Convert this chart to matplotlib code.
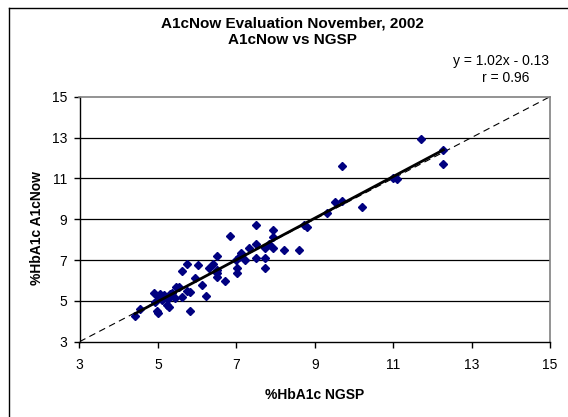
import matplotlib
matplotlib.use("Agg")
import matplotlib.pyplot as plt
from matplotlib.lines import Line2D
import numpy as np

plt.rcParams['font.family'] = ['Liberation Sans', 'DejaVu Sans']

# Data
ngsp = [4.42, 4.54, 4.90, 4.93, 5.00, 4.98, 5.00, 5.10, 5.16, 5.22,
        5.28, 5.30, 5.25, 5.05, 5.35, 5.44, 5.45, 5.55, 5.62, 5.62,
        5.73, 5.75, 5.83, 5.82, 5.94, 6.02, 6.13, 6.22, 6.30, 6.41,
        6.50, 6.50, 6.51, 6.51, 6.72, 6.83, 7.00, 7.02, 7.02, 7.06,
        7.12, 7.21, 7.32, 7.51, 7.51, 7.51, 7.72, 7.72, 7.72, 7.83,
        7.93, 7.93, 7.93, 8.21, 8.61, 8.72, 8.80, 9.31, 9.52, 9.69,
        9.69, 10.20, 11.00, 11.11, 11.71, 12.28, 12.28]
a1cnow = [4.28, 4.59, 5.37, 4.96, 5.24, 4.50, 4.40, 5.05, 5.29, 4.80,
          4.70, 5.33, 5.10, 5.35, 5.40, 5.13, 5.70, 5.70, 5.21, 6.48,
          6.81, 5.50, 4.52, 5.45, 6.11, 6.76, 5.78, 5.26, 6.62, 6.81,
          7.20, 6.51, 6.19, 6.35, 5.99, 8.20, 7.00, 6.60, 6.35, 7.17,
          7.33, 7.00, 7.61, 8.72, 7.79, 7.09, 7.61, 6.60, 7.09, 7.77,
          8.48, 8.15, 7.58, 7.50, 7.50, 8.72, 8.61, 9.29, 9.82, 9.88,
          11.63, 9.59, 11.01, 10.98, 12.92, 12.40, 11.69]
slope = 1.02
intercept = -0.13
r_value = 0.96
ticks = [3, 5, 7, 9, 11, 13, 15]

W, H = 568, 417
fig = plt.figure(figsize=(W / 100, H / 100), dpi=100)
fig.patch.set_facecolor('white')

def fx(px):
    return px / W

def fy(py):
    return 1 - py / H

left, right, top, bottom = 79.5, 550, 96.7, 341.7
ax = fig.add_axes([fx(left), fy(bottom), fx(right) - fx(left), fy(top) - fy(bottom)])
aw, ah = right - left, bottom - top

# chart-area border (only left and top visible in reference)
fig.add_artist(Line2D([fx(8.5), fx(8.5)], [fy(7.5), 0], color='black', lw=1.0, transform=fig.transFigure))
fig.add_artist(Line2D([fx(8.5), 1], [fy(7.5), fy(7.5)], color='black', lw=1.0, transform=fig.transFigure))

ax.set_xlim(3, 15)
ax.set_ylim(3, 15)
ax.set_xticks(ticks)
ax.set_yticks(ticks)
ax.set_xticklabels([str(t) for t in ticks])
ax.set_yticklabels([str(t) for t in ticks])

for t in ticks[1:-1]:
    ax.axhline(t, color='black', lw=0.9, zorder=1)

# identity line
ax.plot([3, 15], [3, 15], color='black', lw=0.8, ls=(0, (6, 4)), zorder=2)

# scatter
ax.plot(ngsp, a1cnow, ls='none', marker='D', markersize=4.2, color='#000080',
        markeredgecolor='#000080', zorder=3)

# regression line
xs = np.array([min(ngsp), max(ngsp)])
ax.plot(xs, slope * xs + intercept, color='black', lw=2.0, zorder=4)

for s in ['left', 'bottom']:
    ax.spines[s].set_color('black')
    ax.spines[s].set_linewidth(1.0)
for s in ['top', 'right']:
    ax.spines[s].set_color('#808080')
    ax.spines[s].set_linewidth(1.2)

ax.tick_params(direction='out', length=4, width=1, labelsize=10, colors='black')
ax.tick_params(axis='x', pad=8)
ax.tick_params(axis='y', pad=5)

ax.set_xlabel('%HbA1c NGSP', fontsize=10, fontweight='bold')
ax.set_ylabel('%HbA1c A1cNow', fontsize=10, fontweight='bold')
ax.xaxis.set_label_coords((315 - left) / aw, (bottom - 395) / ah)
ax.yaxis.set_label_coords((37 - left) / aw, (bottom - 228) / ah)
ax.xaxis.label.set_va('center')
ax.yaxis.label.set_va('center')

fig.text(fx(292), fy(23), 'A1cNow Evaluation November, 2002', ha='center', va='center',
         fontsize=11, fontweight='bold')
fig.text(fx(292), fy(40), 'A1cNow vs NGSP', ha='center', va='center',
         fontsize=11, fontweight='bold')
fig.text(fx(501), fy(61), 'y = 1.02x - 0.13', ha='center', va='center', fontsize=10)
fig.text(fx(506), fy(78), 'r = %.2f' % r_value, ha='center', va='center', fontsize=10)

fig.savefig('out.png', dpi=100)
